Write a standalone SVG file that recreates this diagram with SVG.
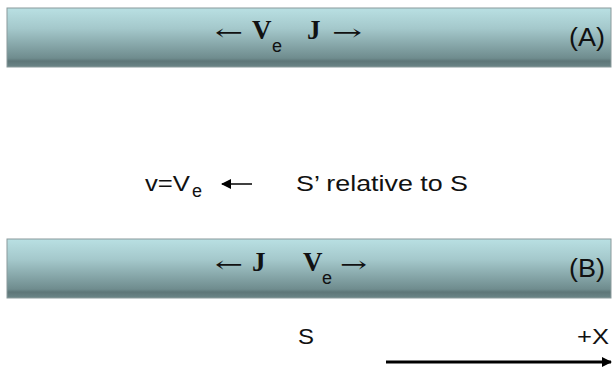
<svg xmlns="http://www.w3.org/2000/svg" width="613" height="368" viewBox="0 0 613 368">
<style>
.bar{fill:url(#g);stroke:#8a9a9b;stroke-width:1}
.m{font-family:"Liberation Serif",serif;font-weight:bold;font-size:27px;fill:#111}
.ar{font-family:"DejaVu Serif","Liberation Serif",serif;font-size:22px;fill:#111}
.e{font-family:"Liberation Sans",sans-serif;font-size:18px;fill:#111}
.a{font-family:"Liberation Sans",sans-serif;font-size:22px;fill:#111}
.lab{font-family:"Liberation Sans",sans-serif;font-size:26px;fill:#111}
</style>
<defs>
<linearGradient id="g" x1="0" y1="0" x2="0" y2="1">
<stop offset="0" stop-color="#b9e0e3"/>
<stop offset="0.35" stop-color="#a4c8cb"/>
<stop offset="0.85" stop-color="#6f8c8e"/>
<stop offset="0.9" stop-color="#5e7678"/>
<stop offset="1" stop-color="#6b8587"/>
</linearGradient>
<marker id="ah" markerWidth="10" markerHeight="10" refX="9" refY="5" orient="auto" markerUnits="userSpaceOnUse">
<path d="M0,0 L10,5 L0,10 Z" fill="#000"/>
</marker>
</defs>
<g id="barA">
<rect class="bar" x="7" y="8" width="604" height="59"/>
<text class="ar" x="215" y="40" textLength="28" lengthAdjust="spacingAndGlyphs">←</text>
<text class="m" x="252" y="39">V</text>
<text class="e" x="272" y="52">e</text>
<text class="m" x="307" y="39">J</text>
<text class="ar" x="332" y="40" textLength="30" lengthAdjust="spacingAndGlyphs">→</text>
<text class="lab" x="569" y="46" textLength="36" lengthAdjust="spacingAndGlyphs">(A)</text>
</g>
<g id="barB">
<rect class="bar" x="7" y="239" width="604" height="59"/>
<text class="ar" x="215" y="272" textLength="28" lengthAdjust="spacingAndGlyphs">←</text>
<text class="m" x="252" y="271">J</text>
<text class="m" x="303" y="271">V</text>
<text class="e" x="322" y="284">e</text>
<text class="ar" x="340" y="272" textLength="27" lengthAdjust="spacingAndGlyphs">→</text>
<text class="lab" x="569" y="277" textLength="36" lengthAdjust="spacingAndGlyphs">(B)</text>
</g>
<g id="relative">
<text class="a" x="145" y="191" textLength="45" lengthAdjust="spacingAndGlyphs">v=V</text>
<text class="e" x="192" y="197" font-size="17">e</text>
<text class="a" x="296" y="191" textLength="172" lengthAdjust="spacingAndGlyphs">S’ relative to S</text>
</g>
<g id="axis">
<text class="a" x="298" y="344" textLength="16" lengthAdjust="spacingAndGlyphs">S</text>
<text class="a" x="577" y="344" textLength="32" lengthAdjust="spacingAndGlyphs">+X</text>
</g>
<g id="connectors">
<line x1="252" y1="184" x2="222" y2="184" stroke="#000" stroke-width="1.5" marker-end="url(#ah)"/>
<line x1="386" y1="362" x2="611" y2="362" stroke="#000" stroke-width="3" marker-end="url(#ah)"/>
</g>
</svg>
